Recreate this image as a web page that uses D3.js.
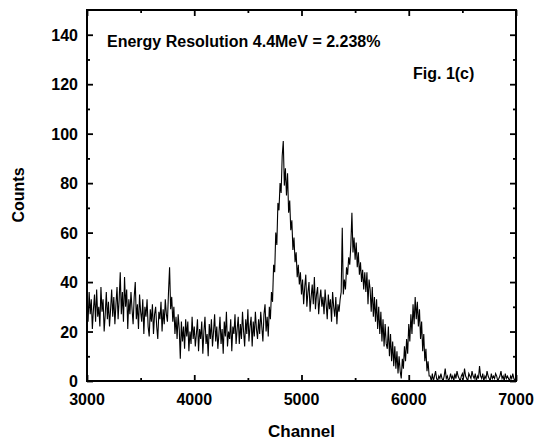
<!DOCTYPE html>
<html>
<head>
<meta charset="utf-8">
<script src="https://cdn.jsdelivr.net/npm/d3@7"></script>
<style>
  body { margin: 0; background: #fff; }
  svg text { font-family: "Liberation Sans", Arial, sans-serif; font-weight: bold; fill: #000; }
</style>
</head>
<body>
<svg id="chart" width="536" height="441"></svg>
<script>
// spectrum, one value every 10 channels from 3000 to 7000
const channelStep = 10;
const counts = [
  31, 24, 36, 27, 33, 21, 29, 35, 24, 37, 26, 30, 22, 38, 28, 33, 20, 27, 36, 25,
  32, 22, 29, 37, 26, 34, 23, 31, 38, 25, 33, 44, 27, 36, 24, 42, 30, 37, 21, 33,
  27, 36, 29, 23, 34, 40, 25, 31, 21, 35, 28, 24, 33, 19, 30, 26, 33, 22, 18, 29,
  24, 31, 19, 27, 30, 22, 17, 28, 25, 32, 20, 29, 23, 33, 27, 24, 36, 46, 29, 34,
  24, 30, 19, 26, 17, 27, 21, 9, 24, 16, 22, 13, 25, 18, 24, 12, 20, 15, 26, 17,
  22, 14, 19, 25, 12, 21, 17, 24, 11, 20, 26, 15, 19, 10, 23, 17, 25, 14, 20, 27,
  16, 22, 13, 19, 26, 15, 21, 11, 24, 18, 28, 14, 20, 17, 25, 12, 22, 19, 27, 15,
  21, 26, 15, 23, 17, 28, 20, 14, 25, 19, 29, 16, 22, 26, 14, 24, 18, 28, 21, 17,
  25, 19, 28, 22, 16, 27, 31, 20, 26, 18, 30, 25, 36, 32, 47, 44, 60, 55, 72, 69,
  80, 76, 91, 97, 79, 86, 75, 84, 68, 73, 61, 65, 53, 58, 48, 52, 42, 47, 39, 44,
  35, 41, 31, 38, 43, 30, 36, 40, 28, 34, 39, 31, 42, 29, 35, 38, 27, 33, 37, 30,
  34, 27, 37, 31, 25, 35, 29, 33, 24, 36, 30, 26, 34, 23, 31, 28, 33, 36, 62, 35,
  41, 37, 46, 43, 50, 47, 55, 68, 52, 58, 49, 56, 46, 52, 43, 48, 40, 45, 37, 44,
  36, 44, 31, 41, 37, 28, 38, 26, 34, 24, 33, 21, 30, 19, 28, 16, 25, 14, 23, 15,
  13, 22, 10, 19, 8, 16, 6, 14, 5, 12, 3, 10, 4, 1, 9, 5, 14, 8, 17, 11,
  23, 16, 27, 19, 31, 23, 34, 25, 32, 22, 29, 17, 24, 12, 19, 8, 13, 4, 8, 2,
  2, 0, 3, 0, 2, 4, 1, 0, 2, 1, 3, 1, 0, 2, 5, 1, 2, 0, 1, 3,
  1, 2, 0, 3, 1, 4, 2, 1, 0, 2, 3, 1, 5, 2, 1, 0, 3, 2, 1, 4,
  2, 1, 3, 0, 2, 1, 6, 2, 1, 3, 0, 2, 1, 4, 2, 1, 0, 3, 1, 2,
  1, 3, 2, 0, 1, 2, 4, 1, 2, 0, 3, 1, 2, 1, 0, 2, 1, 3, 1, 0,
  1
];
const xTicks = [3000, 4000, 5000, 6000, 7000];
const yTicks = [0, 20, 40, 60, 80, 100, 120, 140];
const resolutionLabel = "Energy Resolution 4.4MeV = 2.238%";
const figLabel = "Fig. 1(c)";

const svg = d3.select('#chart');
const mLeft = 87, mRight = 516, mTop = 10, mBottom = 381;

const x = d3.scaleLinear().domain([3000, 7000]).range([mLeft, mRight]);
const y = d3.scaleLinear().domain([0, 150]).range([mBottom, mTop]);

const data = counts.map((c, i) => ({ch: 3000 + i * channelStep, c: c}));

svg.append('clipPath').attr('id', 'plot')
  .append('rect').attr('x', mLeft).attr('y', mTop).attr('width', mRight - mLeft).attr('height', mBottom - mTop);

svg.append('path')
  .datum(data)
  .attr('clip-path', 'url(#plot)')
  .attr('fill', 'none')
  .attr('stroke', '#000')
  .attr('stroke-width', 1.1)
  .attr('d', d3.line().x(d => x(d.ch)).y(d => y(d.c)));

// axes, ticks pointing inward on all four sides
const xMinor = d3.range(3500, 7000, 1000);
const yMinor = d3.range(10, 150, 20);

function ticks(axis, vals, len, off) {
  return svg.append('g').attr('transform', off).call(axis.tickValues(vals).tickSize(len).tickFormat(''));
}
ticks(d3.axisBottom(x), xTicks, -6, `translate(0,${mBottom})`);
ticks(d3.axisBottom(x), xMinor, -3, `translate(0,${mBottom})`);
ticks(d3.axisTop(x), xTicks, -6, `translate(0,${mTop})`);
ticks(d3.axisTop(x), xMinor, -3, `translate(0,${mTop})`);
ticks(d3.axisLeft(y), yTicks, -6, `translate(${mLeft},0)`);
ticks(d3.axisLeft(y), yMinor, -3, `translate(${mLeft},0)`);
ticks(d3.axisRight(y), yTicks, -6, `translate(${mRight},0)`);
ticks(d3.axisRight(y), yMinor, -3, `translate(${mRight},0)`);
svg.selectAll('.domain').remove();
svg.selectAll('.tick line').attr('stroke', '#000').attr('stroke-width', 1.8);

svg.append('rect')
  .attr('x', mLeft).attr('y', mTop).attr('width', mRight - mLeft).attr('height', mBottom - mTop)
  .attr('fill', 'none').attr('stroke', '#000').attr('stroke-width', 2);

svg.append('g').selectAll('text').data(xTicks).enter().append('text')
  .attr('x', d => x(d)).attr('y', 405)
  .attr('text-anchor', 'middle').style('font-size', '16px')
  .text(d => d);

svg.append('g').selectAll('text').data(yTicks).enter().append('text')
  .attr('x', 78).attr('y', d => y(d) + 6)
  .attr('text-anchor', 'end').style('font-size', '16px')
  .text(d => d);

svg.append('text').attr('x', (mLeft + mRight) / 2).attr('y', 437)
  .attr('text-anchor', 'middle').style('font-size', '17px').text('Channel');

svg.append('text').attr('transform', 'translate(24,195) rotate(-90)')
  .attr('text-anchor', 'middle').style('font-size', '16px')
  .text('Counts');

svg.append('text').attr('x', 107).attr('y', 47).style('font-size', '16px').text(resolutionLabel);
svg.append('text').attr('x', 413).attr('y', 79).style('font-size', '16px').text(figLabel);
</script>
</body>
</html>
